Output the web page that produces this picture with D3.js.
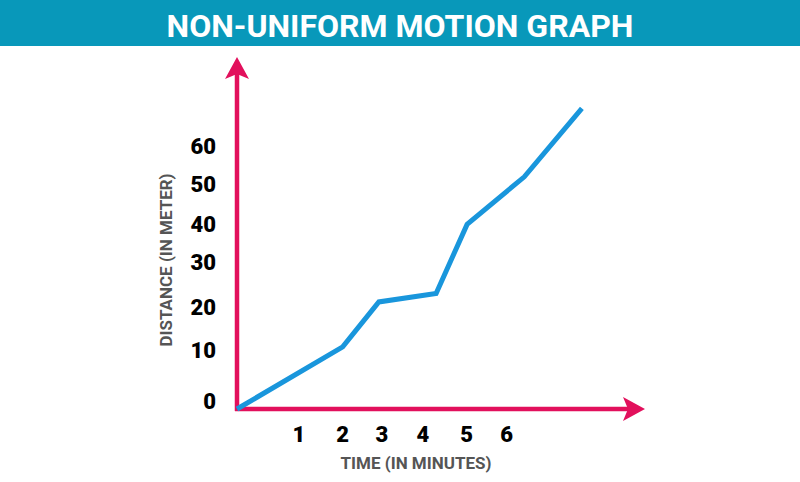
<!DOCTYPE html>
<html>
<head>
<meta charset="utf-8">
<script src="https://cdn.jsdelivr.net/npm/d3@7"></script>
<style>
  body { margin: 0; background: #fff; }
  svg { display: block; font-family: Roboto, "Noto Sans", sans-serif; }
</style>
</head>
<body>
<div id="chart"></div>
<script>
// tick labels on both axes
const timeTicks = [0, 1, 2, 3, 4, 5, 6];
const distTicks = [0, 10, 20, 30, 40, 50, 60];

// the motion line (time in minutes, distance in meter)
const times = [0, 2, 2.92, 4.3, 5.01, 6.44, 7.88];
const distances = [0, 12.6, 22.9, 24.8, 41.9, 54.0, 72.0];

const width = 800, height = 482;

const svg = d3.select("#chart").append("svg")
    .attr("width", width)
    .attr("height", height);

// title bar
svg.append("rect")
    .attr("x", 0).attr("y", 0)
    .attr("width", width).attr("height", 46)
    .attr("fill", "#0898ba");

svg.append("text")
    .attr("x", width / 2)
    .attr("y", 37)
    .attr("text-anchor", "middle")
    .attr("fill", "#fff")
    .attr("font-size", 32)
    .attr("font-weight", 700)
    .text("NON-UNIFORM MOTION GRAPH");

// the picture is hand drawn, so the scales are piecewise (polylinear)
const x = d3.scaleLinear()
    .domain(timeTicks)
    .range([237, 299, 342.7, 382, 423, 466.7, 506.7]);

const y = d3.scaleLinear()
    .domain(distTicks)
    .range([409, 358, 315, 270, 232, 192, 154]);

const pink = "#e2105c";

// axes lines
const axes = svg.append("g").attr("class", "axes");

axes.append("line")
    .attr("x1", x(0)).attr("y1", y(0) + 2)
    .attr("x2", x(0)).attr("y2", 72)
    .attr("stroke", pink)
    .attr("stroke-width", 4.5);

axes.append("line")
    .attr("x1", x(0) - 2).attr("y1", y(0))
    .attr("x2", 632).attr("y2", y(0))
    .attr("stroke", pink)
    .attr("stroke-width", 4.5);

// arrow heads
const ox = x(0), oy = y(0);
axes.append("path")
    .attr("d", `M${ox},57 L${ox + 12},79 L${ox},74 L${ox - 12},79 Z`)
    .attr("fill", pink);

axes.append("path")
    .attr("d", `M645,${oy} L623,${oy - 12} L628,${oy} L623,${oy + 12} Z`)
    .attr("fill", pink);

// line
const line = d3.line()
    .x(d => x(d[0]))
    .y(d => y(d[1]));

svg.append("path")
    .datum(d3.zip(times, distances))
    .attr("d", line)
    .attr("fill", "none")
    .attr("stroke", "#1996dc")
    .attr("stroke-width", 5)
    .attr("stroke-linejoin", "miter");

// tick labels
svg.append("g").selectAll("text")
    .data(timeTicks.slice(1))
    .join("text")
    .attr("x", d => x(d))
    .attr("y", 442)
    .attr("text-anchor", "middle")
    .attr("font-size", 22)
    .attr("font-weight", 900)
    .attr("fill", "#000")
    .text(d => d);

svg.append("g").selectAll("text")
    .data(distTicks)
    .join("text")
    .attr("x", 216)
    .attr("y", d => y(d))
    .attr("text-anchor", "end")
    .attr("font-size", 22)
    .attr("font-weight", 900)
    .attr("fill", "#000")
    .text(d => d);

// axis titles
svg.append("text")
    .attr("x", 416)
    .attr("y", 469)
    .attr("text-anchor", "middle")
    .attr("font-size", 17)
    .attr("font-weight", 700)
    .attr("fill", "#555")
    .text("TIME (IN MINUTES)");

svg.append("text")
    .attr("transform", "translate(172,260) rotate(-90)")
    .attr("text-anchor", "middle")
    .attr("font-size", 17)
    .attr("font-weight", 700)
    .attr("fill", "#555")
    .text("DISTANCE (IN METER)");
</script>
</body>
</html>
